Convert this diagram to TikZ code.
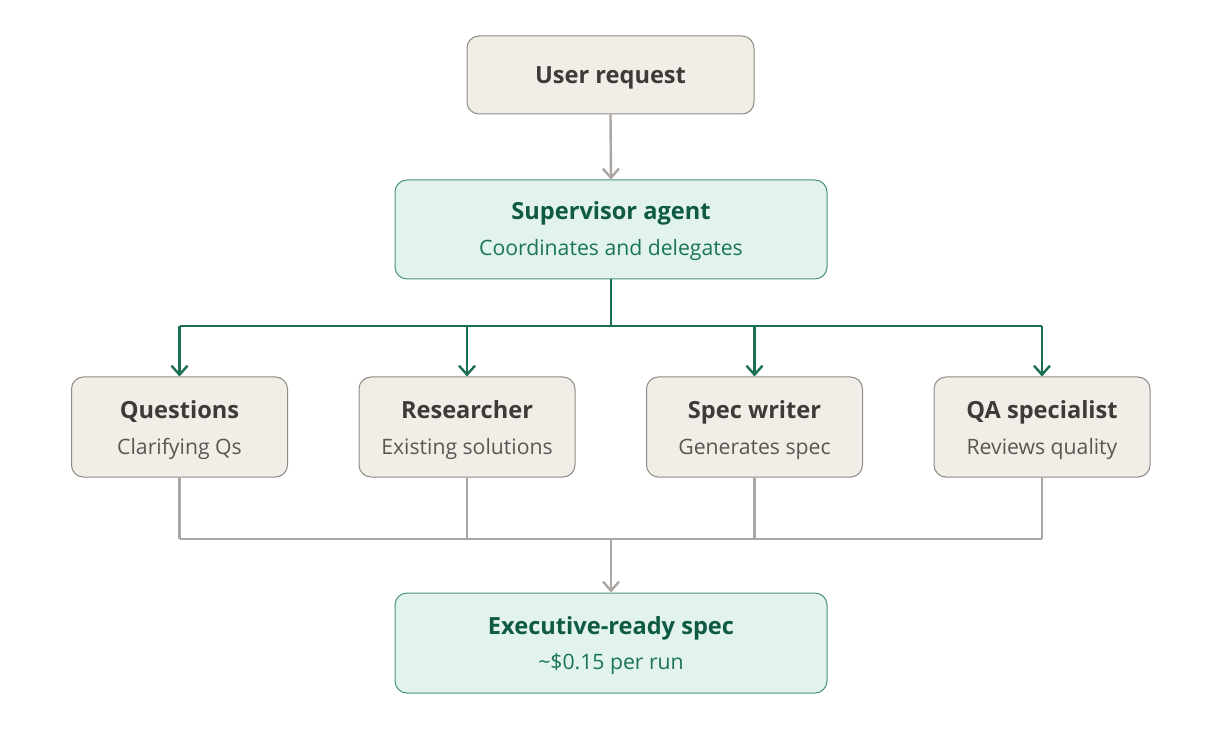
\documentclass[tikz,border=0pt]{standalone}
\usepackage{fontspec}
\setmainfont{Open Sans}
\usetikzlibrary{arrows.meta}
\definecolor{beigefill}{HTML}{F1EEE8}
\definecolor{beigedraw}{HTML}{8F8A85}
\definecolor{greenfill}{HTML}{E1F3EC}
\definecolor{greendraw}{HTML}{4A927A}
\definecolor{titlegrey}{HTML}{3D3B38}
\definecolor{subgrey}{HTML}{5A5753}
\definecolor{titlegreen}{HTML}{0E5A44}
\definecolor{subgreen}{HTML}{1A7556}
\definecolor{greyline}{HTML}{ABA6A1}
\definecolor{greenline}{HTML}{1A6E54}
\begin{document}
\begin{tikzpicture}[x=0.5pt,y=-0.5pt,
  box/.style={draw=beigedraw,fill=beigefill,line width=0.5pt,rounded corners=6pt,inner sep=0pt},
  gbox/.style={draw=greendraw,fill=greenfill,line width=0.5pt,rounded corners=6pt,inner sep=0pt},
  ttl/.style={font=\fontsize{11.8}{14}\selectfont\bfseries,text=titlegrey,inner sep=0pt,anchor=base},
  sub/.style={font=\fontsize{10.6}{12}\selectfont,text=subgrey,inner sep=0pt,anchor=base},
  gttl/.style={font=\fontsize{11.8}{14}\selectfont\bfseries,text=titlegreen,inner sep=0pt,anchor=base},
  gsub/.style={font=\fontsize{10.6}{12}\selectfont,text=subgreen,inner sep=0pt,anchor=base},
  greyarrow/.style={draw=greyline,line width=1.2pt,-{Straight Barb[length=4.5pt,width=8pt,line width=1.2pt]}},
  greyconn/.style={draw=greyline,line width=1.2pt},
  greenarrow/.style={draw=greenline,line width=1.2pt,-{Straight Barb[length=4.5pt,width=8pt,line width=1.2pt]}},
  greenconn/.style={draw=greenline,line width=1.2pt}]
\useasboundingbox (0,0) rectangle (1222,754);
% boxes
\node[box,minimum width=287pt*0.5,minimum height=78pt*0.5] (user) at (610.5,75) {};
\node[ttl] (userT) at (610.5,84) {User request};

\node[gbox,minimum width=432pt*0.5,minimum height=99pt*0.5] (sup) at (611,229.5) {};
\node[gttl] (supT) at (611,220) {Supervisor agent};
\node[gsub] (supS) at (611,256) {Coordinates and delegates};

\foreach \n/\x/\t/\s in {q/179.5/Questions/Clarifying Qs, r/467/Researcher/Existing solutions, w/754.5/Spec writer/Generates spec, a/1042/QA specialist/Reviews quality}{
  \node[box,minimum width=216pt*0.5,minimum height=100pt*0.5] (\n) at (\x,427) {};
  \node[ttl] (\n T) at (\x,419) {\t};
  \node[sub] (\n S) at (\x,454) {\s};
}

\node[gbox,minimum width=432pt*0.5,minimum height=100pt*0.5] (exe) at (611,643) {};
\node[gttl] (exeT) at (611,634) {Executive-ready spec};
\node[gsub] (exeS) at (611,669) {\textasciitilde\$0.15 per run};

% connectors
\draw[greyarrow] (user.south) -- (sup.north);
\coordinate (split) at (611,326);
\draw[greenconn] (sup.south) -- (split);
\draw[greenconn] (q.north |- split) -- (a.north |- split);
\foreach \n in {q,r,w,a}{
  \draw[greenarrow] (\n.north |- split) -- (\n.north);
}
\coordinate (merge) at (611,539);
\draw[greyconn] (q.south |- merge) -- (a.south |- merge);
\foreach \n in {q,r,w,a}{
  \draw[greyconn] (\n.south) -- (\n.south |- merge);
}
\draw[greyarrow] (merge) -- (exe.north);
\end{tikzpicture}
\end{document}
